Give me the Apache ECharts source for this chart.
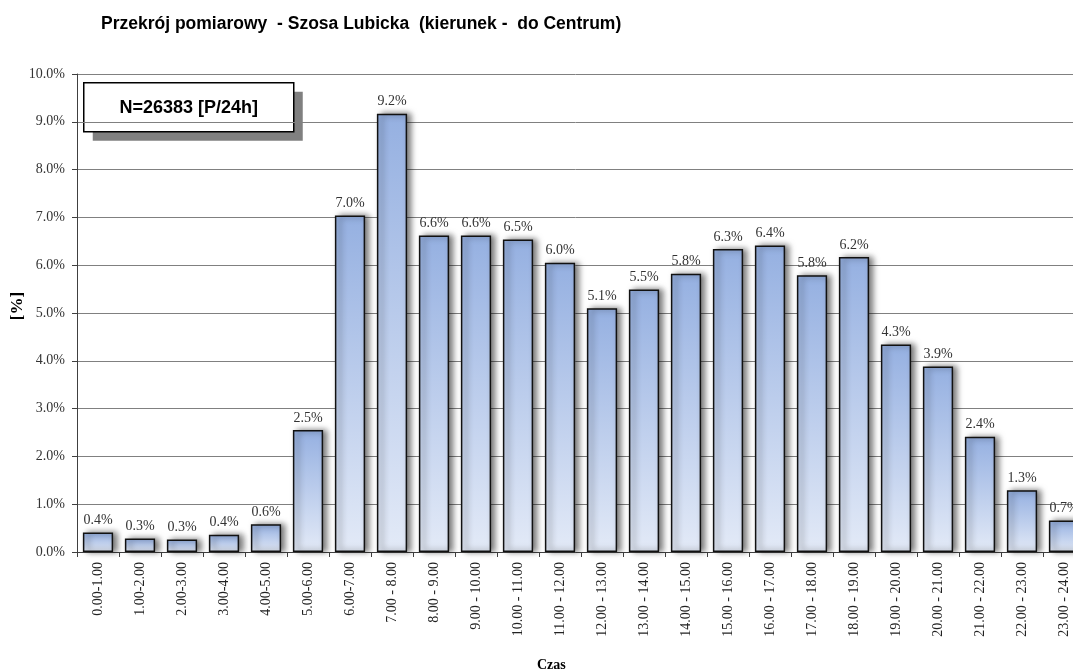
<!DOCTYPE html>
<html>
<head>
<meta charset="utf-8">
<script src="https://cdn.jsdelivr.net/npm/echarts@6/dist/echarts.min.js"></script>
<style>
  html, body { margin: 0; padding: 0; background: #fff; }
  #container1 { width: 1073px; height: 669px; }
</style>
</head>
<body>
<div id="container1"></div>
<script>
var categories = ["0.00-1.00", "1.00-2.00", "2.00-3.00", "3.00-4.00", "4.00-5.00", "5.00-6.00",
  "6.00-7.00", "7.00 - 8.00", "8.00 - 9.00", "9.00 - 10.00", "10.00 - 11.00", "11.00 - 12.00",
  "12.00 - 13.00", "13.00 - 14.00", "14.00 - 15.00", "15.00 - 16.00", "16.00 - 17.00", "17.00 - 18.00",
  "18.00 - 19.00", "19.00 - 20.00", "20.00 - 21.00", "21.00 - 22.00", "22.00 - 23.00", "23.00 - 24.00"];
// udział [%] w ruchu dobowym
var shares = [0.41, 0.28, 0.26, 0.36, 0.58, 2.55, 7.04, 9.17, 6.62, 6.62, 6.54, 6.05,
  5.10, 5.49, 5.82, 6.34, 6.41, 5.79, 6.17, 4.34, 3.88, 2.41, 1.29, 0.66];
var yTicks = [0, 1, 2, 3, 4, 5, 6, 7, 8, 9, 10];

var serif = '"Liberation Serif", "Times New Roman", serif';
var sans = '"Liberation Sans", Arial, sans-serif';

var myChart = echarts.init(document.getElementById("container1"));
var option = {
  animation: false,
  title: [{
    text: 'Przekrój pomiarowy  - Szosa Lubicka  (kierunek -  do Centrum)',
    left: 96,
    top: 10,
    textStyle: { fontFamily: sans, fontSize: 17.5, fontWeight: 'bold', color: '#000' }
  }, {
    text: 'Czas',
    left: 532,
    top: 653,
    textStyle: { fontFamily: serif, fontSize: 14, fontWeight: 'bold', color: '#000' }
  }],
  graphic: [{
    type: 'group',
    left: 83,
    top: 82,
    children: [{
      type: 'rect',
      shape: { x: 9, y: 9, width: 210, height: 49 },
      style: { fill: '#808080' }
    }, {
      type: 'rect',
      shape: { x: 0, y: 0, width: 210, height: 49 },
      style: { fill: '#fff', stroke: '#000', lineWidth: 1.5 }
    }, {
      type: 'text',
      x: 105,
      y: 25,
      style: {
        text: 'N=26383 [P/24h]',
        font: 'bold 18px ' + sans,
        fill: '#000',
        align: 'center',
        verticalAlign: 'middle'
      }
    }]
  }, {
    // opis osi Y
    type: 'text',
    x: 18,
    y: 306,
    rotation: Math.PI / 2,
    style: {
      text: '[%]',
      font: 'bold 17px ' + serif,
      fill: '#000',
      align: 'center',
      verticalAlign: 'middle'
    }
  }],
  grid: {
    left: 77,
    right: -12,
    top: 74,
    bottom: 117,
    containLabel: false,
    outerBoundsMode: 'none'
  },
  xAxis: {
    type: 'category',
    data: categories,
    axisLine: { lineStyle: { color: '#404040', width: 1 } },
    axisTick: { show: true, length: 5, lineStyle: { color: '#404040' } },
    axisLabel: {
      interval: 0,
      rotate: 90,
      margin: 10,
      fontFamily: serif,
      fontSize: 14,
      color: '#222'
    }
  },
  yAxis: {
    type: 'value',
    min: 0,
    max: 10,
    interval: 1,
    axisLine: { show: true, lineStyle: { color: '#404040', width: 1 } },
    axisTick: { show: true, length: 5, lineStyle: { color: '#404040' } },
    splitLine: { show: true, lineStyle: { color: '#808080', width: 1 } },
    axisLabel: {
      margin: 12,
      fontFamily: serif,
      fontSize: 14,
      color: '#333',
      formatter: function (v) {
        return yTicks.indexOf(v) >= 0 ? v.toFixed(1) + '%' : '';
      }
    }
  },
  series: [{
    type: 'bar',
    data: shares,
    barCategoryGap: '28%',
    itemStyle: {
      color: new echarts.graphic.LinearGradient(0, 0, 0, 1, [
        { offset: 0, color: '#95b0e1' },
        { offset: 1, color: '#e3eaf7' }
      ]),
      borderColor: '#111',
      borderWidth: 1.5,
      shadowColor: 'rgba(0,0,0,0.55)',
      shadowBlur: 6,
      shadowOffsetX: 4,
      shadowOffsetY: 0
    },
    label: {
      show: true,
      position: 'top',
      distance: 5,
      fontFamily: serif,
      fontSize: 14,
      color: '#333',
      formatter: function (p) {
        return p.value.toFixed(1) + '%';
      }
    }
  }]
};
myChart.setOption(option, true);
</script>
</body>
</html>
